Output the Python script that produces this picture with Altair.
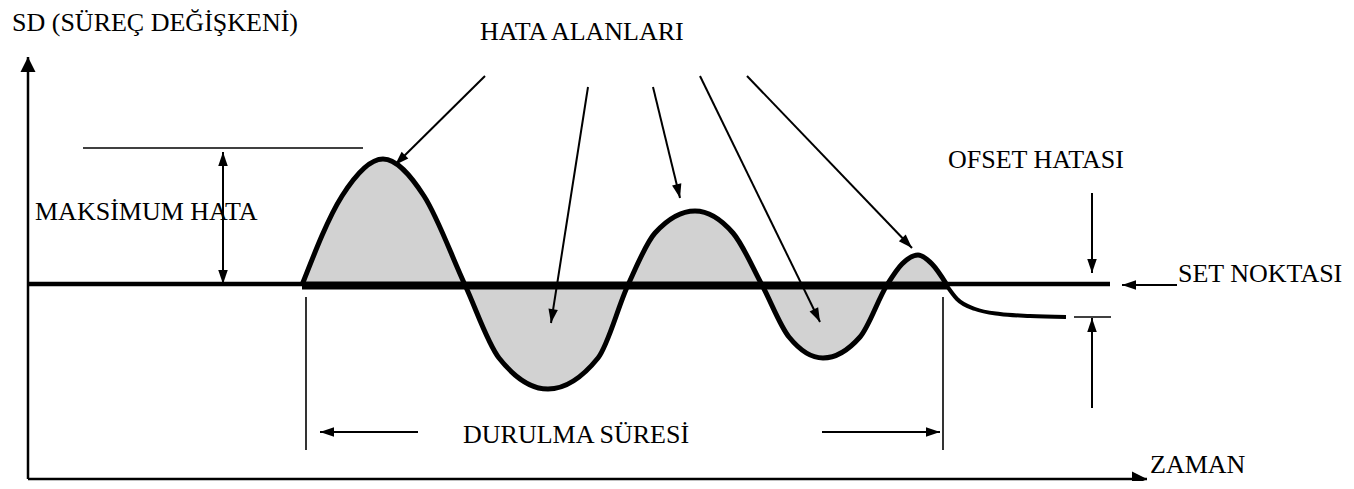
import altair as alt
import numpy as np
import pandas as pd

# ---- data (screen-pixel coordinates of the diagram) ----
curve_x = [302, 342, 383, 424, 465, 499, 548, 598, 628, 655, 695, 733, 762, 789, 823, 860, 887, 902, 918, 932, 947]
curve_y = [285, 196, 159, 196, 285, 358, 389, 358, 285, 233, 211, 233, 285, 337, 358, 337, 285, 264, 255, 264, 285]
setpoint_y = 285

tail_x = [947, 957, 975, 1000, 1030, 1066]
tail_y = [286, 299, 309, 314, 316, 317]

# set-point line pieces
set_x1 = [28, 302, 947]
set_x2 = [302, 947, 1110]
set_y = [284, 285.5, 284]

# arrows: tail -> tip
arrow_x1 = [485, 588, 653, 700, 747, 223, 223, 1092, 1092, 1177, 418, 822]
arrow_y1 = [76, 87, 87, 76, 76, 218, 218, 193, 408, 285, 432, 432]
arrow_x2 = [395, 551, 680, 820, 912, 223, 223, 1092, 1092, 1122, 320, 940]
arrow_y2 = [165, 323, 198, 322, 248, 152, 284, 273, 318, 285, 432, 432]

# axes: origin -> tip
axis_x1 = [28, 28]
axis_y1 = [479, 479]
axis_x2 = [28, 1147]
axis_y2 = [57, 479]

# plain guide lines
guide_x1 = [83, 306, 943, 1074]
guide_y1 = [148, 297, 297, 317]
guide_x2 = [363, 306, 943, 1111]
guide_y2 = [148, 450, 450, 317]

labels = ["SD (SÜREÇ DEĞİŞKENİ)", "HATA ALANLARI", "MAKSİMUM HATA", "OFSET HATASI",
          "SET NOKTASI", "DURULMA SÜRESİ", "ZAMAN"]
label_x = [12, 480, 35, 948, 1178, 463, 1150]
label_y = [31, 40, 220, 168, 282, 443, 473]

# ---- tables ----
curve = pd.DataFrame({"x": curve_x, "y": curve_y})
tail = pd.DataFrame({"x": tail_x, "y": tail_y})
setl = pd.DataFrame({"x": set_x1, "x2": set_x2, "y": set_y})
arrows = pd.DataFrame({"x": arrow_x1, "y": arrow_y1, "x2": arrow_x2, "y2": arrow_y2})
axes = pd.DataFrame({"x": axis_x1, "y": axis_y1, "x2": axis_x2, "y2": axis_y2})
guides = pd.DataFrame({"x": guide_x1, "y": guide_y1, "x2": guide_x2, "y2": guide_y2})
texts = pd.DataFrame({"t": labels, "x": label_x, "y": label_y})


def heads(df):
    dx = df["x2"] - df["x"]
    dy = df["y2"] - df["y"]
    ang = np.degrees(np.arctan2(dx, -dy)) % 360
    return pd.DataFrame({"x": df["x2"], "y": df["y2"], "a": ang})


arrow_heads = heads(arrows)
axis_heads = heads(axes)

XS = alt.Scale(domain=[8, 1346], nice=False, zero=False)
YS = alt.Scale(domain=[8, 481], nice=False, zero=False, reverse=True)
X = lambda f="x": alt.X(f + ":Q", scale=XS, axis=None)
Y = lambda f="y": alt.Y(f + ":Q", scale=YS, axis=None)

area = alt.Chart(curve).mark_area(interpolate="monotone", color="#d2d2d2").encode(
    x=X(), y=Y(), y2=alt.datum(setpoint_y))
line = alt.Chart(curve).mark_line(interpolate="monotone", color="black", strokeWidth=5).encode(
    x=X(), y=Y())
tail_line = alt.Chart(tail).mark_line(interpolate="monotone", color="black", strokeWidth=4).encode(
    x=X(), y=Y())

set_thin = alt.Chart(setl).transform_filter("datum.x != 302").mark_rule(color="black", strokeWidth=4.5).encode(
    x=X(), x2="x2:Q", y=Y())
set_thick = alt.Chart(setl).transform_filter("datum.x == 302").mark_rule(color="black", strokeWidth=8).encode(
    x=X(), x2="x2:Q", y=Y())

arrow_lines = alt.Chart(arrows).mark_rule(color="black", strokeWidth=2).encode(
    x=X(), y=Y(), x2="x2:Q", y2="y2:Q")
axis_lines = alt.Chart(axes).mark_rule(color="black", strokeWidth=2.5).encode(
    x=X(), y=Y(), x2="x2:Q", y2="y2:Q")
guide_lines = alt.Chart(guides).mark_rule(color="black", strokeWidth=1.6).encode(
    x=X(), y=Y(), x2="x2:Q", y2="y2:Q")

narrow = "M0,0L-0.34,1L0.34,1Z"
wide = "M0,0L-0.5,1L0.5,1Z"
arrow_pts = alt.Chart(arrow_heads).mark_point(shape=narrow, size=784, filled=True, color="black", opacity=1, strokeWidth=0).encode(
    x=X(), y=Y(), angle=alt.Angle("a:Q", scale=None))
axis_pts = alt.Chart(axis_heads).mark_point(shape=wide, size=900, filled=True, color="black", opacity=1, strokeWidth=0).encode(
    x=X(), y=Y(), angle=alt.Angle("a:Q", scale=None))

text = alt.Chart(texts).mark_text(align="left", baseline="alphabetic",
                                  font="Liberation Serif",
                                  fontSize=26, color="black").encode(
    x=X(), y=Y(), text="t:N")

chart = alt.layer(area, set_thin, set_thick, line, tail_line, arrow_lines, axis_lines, guide_lines,
                  arrow_pts, axis_pts, text).properties(
    width=1338, height=473, autosize=alt.AutoSizeParams(type="none"), padding=0,
    background="white"
).configure_view(strokeWidth=0)

chart.save("out.html", embed_options={"renderer": "svg", "actions": False})
